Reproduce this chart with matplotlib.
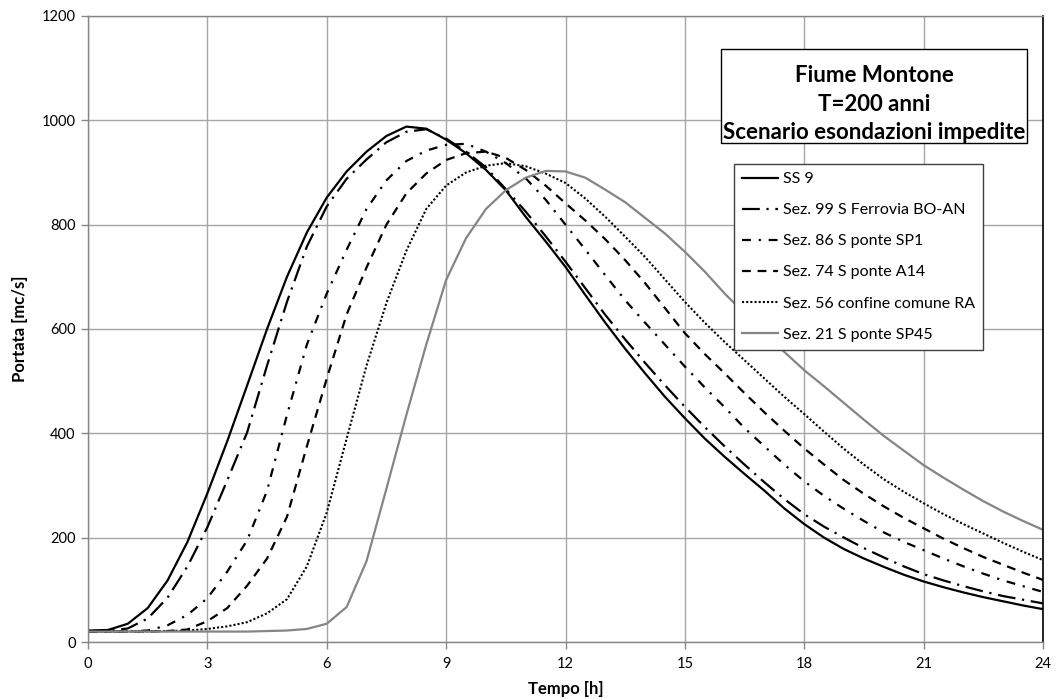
import matplotlib
matplotlib.use("Agg")
import matplotlib.pyplot as plt
from matplotlib.patches import Rectangle
from matplotlib.lines import Line2D

plt.rcParams["font.family"] = ["Lato", "DejaVu Sans"]

# Time axis [h]
tempo = [i * 0.5 for i in range(49)]

# Discharge hydrographs [mc/s]
ss9 = [22, 23, 35, 65, 118, 192, 285, 385, 492, 600, 700, 785, 852, 902, 940, 970,
       988, 984, 963, 937, 905, 866, 815, 768, 719, 665, 612, 562, 515, 470, 429, 390,
       355, 322, 290, 256, 226, 200, 178, 160, 144, 129, 116, 105, 95, 86, 78, 70, 63]
sez99 = [20, 21, 26, 45, 85, 145, 220, 310, 402, 530, 652, 758, 835, 888, 925, 958,
         978, 983, 965, 940, 910, 868, 825, 778, 729, 678, 627, 580, 535, 492, 451, 412,
         375, 340, 306, 274, 245, 221, 200, 180, 162, 145, 130, 118, 107, 97, 88, 81, 74]
sez86 = [20, 20, 20, 22, 32, 52, 84, 135, 195, 290, 435, 570, 668, 752, 830, 885,
         922, 942, 953, 955, 940, 918, 889, 848, 800, 752, 703, 655, 612, 570, 528, 488,
         450, 410, 375, 340, 308, 280, 255, 232, 210, 192, 176, 160, 145, 131, 118, 107, 96]
sez74 = [20, 20, 20, 20, 21, 24, 40, 65, 108, 160, 240, 375, 505, 628, 718, 800,
         860, 898, 924, 937, 940, 928, 905, 875, 841, 808, 772, 732, 688, 640, 592, 552,
         515, 477, 440, 405, 371, 340, 310, 284, 260, 238, 218, 198, 180, 163, 148, 133, 119]
sez56 = [20, 20, 20, 20, 21, 22, 25, 30, 38, 55, 82, 145, 248, 390, 530, 650,
         750, 830, 875, 900, 913, 918, 912, 898, 880, 850, 815, 777, 738, 695, 652, 612,
         575, 540, 505, 470, 437, 403, 370, 340, 312, 288, 266, 245, 226, 208, 190, 173, 157]
sez21 = [20, 20, 20, 20, 20, 20, 20, 20, 20, 21, 22, 25, 35, 67, 155, 294,
         435, 570, 694, 774, 830, 866, 890, 903, 902, 890, 867, 843, 813, 783, 748, 710,
         668, 630, 592, 556, 521, 490, 458, 426, 395, 367, 339, 315, 292, 270, 250, 232, 215]

labels = ["SS 9", "Sez. 99 S Ferrovia BO-AN", "Sez. 86 S ponte SP1",
          "Sez. 74 S ponte A14", "Sez. 56 confine comune RA", "Sez. 21 S ponte SP45"]
series = [ss9, sez99, sez86, sez74, sez56, sez21]
styles = [
    dict(color="black", linestyle="-", linewidth=1.6),
    dict(color="black", linestyle=(0, (8, 3, 1, 3)), linewidth=1.6),
    dict(color="black", linestyle=(0, (4, 3.5, 1, 3.5)), linewidth=1.6),
    dict(color="black", linestyle=(0, (4, 3)), linewidth=1.6),
    dict(color="black", linestyle=(0, (1, 1)), linewidth=1.5),
    dict(color="#858585", linestyle="-", linewidth=1.6),
]

xticks = list(range(0, 25, 3))
yticks = list(range(0, 1201, 200))

fig = plt.figure(figsize=(10.56, 6.99), dpi=100)
ax = fig.add_axes([88 / 1056, 1 - 642 / 699, (1043 - 88) / 1056, (642 - 16) / 699])

for vals, lab, st in zip(series, labels, styles):
    ax.plot(tempo, vals, label=lab, solid_capstyle="butt", dash_capstyle="butt", **st)

ax.set_xlim(0, 24)
ax.set_ylim(0, 1200)
ax.set_xticks(xticks)
ax.set_yticks(yticks)
ax.tick_params(axis="both", labelsize=10.5, length=5, width=1, color="#868686",
               direction="out", pad=4)
ax.tick_params(axis="x", pad=6)
ax.grid(True, color="#a6a6a6", linewidth=1)
ax.set_axisbelow(True)
for side in ("left", "bottom", "top"):
    ax.spines[side].set_color("#868686")
    ax.spines[side].set_linewidth(1)
ax.spines["right"].set_color("black")
ax.spines["right"].set_linewidth(1.2)

ax.set_xlabel("Tempo [h]", fontsize=12, fontweight="bold", labelpad=7)
ax.set_ylabel("Portata [mc/s]", fontsize=12, fontweight="bold", labelpad=10)

# Legend box
handles = [Line2D([], [], **st) for st in styles]
leg = ax.legend(handles, labels, loc="upper left", bbox_to_anchor=(0.676, 0.7636),
                borderaxespad=0, fontsize=11.5, frameon=True, fancybox=False,
                edgecolor="#404040", framealpha=1, handlelength=2.3,
                handletextpad=0.3, labelspacing=1.06, borderpad=0.5)
leg.get_frame().set_linewidth(1)
leg.set_zorder(5)

# Title box
ax.add_patch(Rectangle((0.6628, 0.7971), 0.3204, 0.1502, transform=ax.transAxes,
                       facecolor="white", edgecolor="black", linewidth=1, zorder=6))
ax.text(0.8230, 0.859, "Fiume Montone\nT=200 anni\nScenario esondazioni impedite",
        transform=ax.transAxes, ha="center", va="center", multialignment="center",
        fontsize=16, fontweight="bold", linespacing=1.45, zorder=7)

fig.savefig("out.png", dpi=100)
